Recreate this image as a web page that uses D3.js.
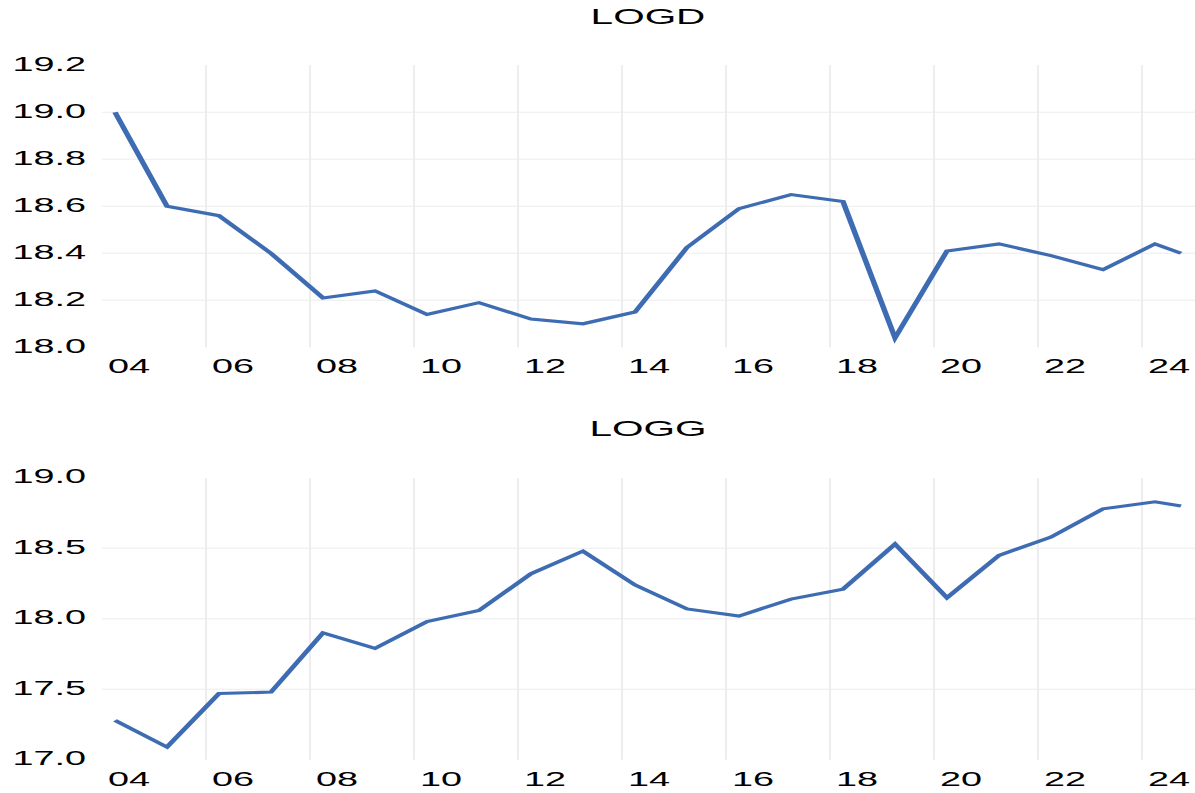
<!DOCTYPE html>
<html>
<head>
<meta charset="utf-8">
<script src="https://cdn.jsdelivr.net/npm/d3@7"></script>
<style>
  html, body { margin: 0; padding: 0; background: #fff; }
  svg { display: block; }
  text { font-family: "Liberation Sans", Arial, sans-serif; fill: #000; }
</style>
</head>
<body>
<svg id="chart"></svg>
<script>
// Observation dates (decimal years)
const periods = [2004.25, 2005.25, 2006.25, 2007.25, 2008.25, 2009.25, 2010.25,
  2011.25, 2012.25, 2013.25, 2014.25, 2015.25, 2016.25, 2017.25, 2018.25,
  2019.25, 2020.25, 2021.25, 2022.25, 2023.25, 2024.25, 2024.75];

const logd = [19.00, 18.60, 18.56, 18.40, 18.21, 18.24, 18.14, 18.19, 18.12, 18.10,
  18.15, 18.425, 18.59, 18.65, 18.62, 18.04, 18.41, 18.44, 18.39, 18.33, 18.44, 18.40];

const logg = [17.28, 17.09, 17.47, 17.48, 17.90, 17.79, 17.98, 18.06, 18.32, 18.48,
  18.24, 18.07, 18.02, 18.14, 18.21, 18.53, 18.15, 18.45, 18.58, 18.78, 18.83, 18.80];

// Axis ticks
const xLabelYears = [2004, 2006, 2008, 2010, 2012, 2014, 2016, 2018, 2020, 2022, 2024];
const xGridYears = [2006, 2008, 2010, 2012, 2014, 2016, 2018, 2020, 2022, 2024];
const logdTicks = [18.0, 18.2, 18.4, 18.6, 18.8, 19.0, 19.2];
const logdGrid = [18.2, 18.4, 18.6, 18.8, 19.0];
const loggTicks = [17.0, 17.5, 18.0, 18.5, 19.0];
const loggGrid = [17.5, 18.0, 18.5];

// The drawing is laid out in a narrower space and stretched horizontally
const K = 1.8;
const W = 1195, H = 793;
const VW = W / K;

const svg = d3.select("#chart")
  .attr("width", W).attr("height", H)
  .attr("viewBox", `0 0 ${VW} ${H}`)
  .attr("preserveAspectRatio", "none");

const x = d3.scaleLinear().domain([2004, 2025]).range([102 / K, 1194 / K]);

const panels = [
  { title: "LOGD", values: logd, domain: [18.0, 19.2], range: [347.3, 65.3],
    ticks: logdTicks, grid: logdGrid, titleY: 24, xLabelY: 373 },
  { title: "LOGG", values: logg, domain: [17.0, 19.0], range: [759.8, 477.8],
    ticks: loggTicks, grid: loggGrid, titleY: 436, xLabelY: 786 }
];

panels.forEach(p => {
  const y = d3.scaleLinear().domain(p.domain).range(p.range);
  const g = svg.append("g");

  // vertical grid
  g.append("g").selectAll("line").data(xGridYears).join("line")
    .attr("x1", d => x(d)).attr("x2", d => x(d))
    .attr("y1", p.range[1]).attr("y2", p.range[0])
    .attr("stroke", "#ebebeb").attr("stroke-width", 1);

  // horizontal grid
  g.append("g").selectAll("line").data(p.grid).join("line")
    .attr("x1", x.range()[0]).attr("x2", VW)
    .attr("y1", d => y(d)).attr("y2", d => y(d))
    .attr("stroke", "#ececec").attr("stroke-width", 1);

  // y axis labels
  const ya = g.append("g")
    .attr("transform", `translate(${86 / K},0)`)
    .call(d3.axisLeft(y).tickValues(p.ticks).tickSize(0).tickPadding(0)
      .tickFormat(d3.format(".1f")));
  ya.select(".domain").remove();
  ya.selectAll("text")
    .attr("font-family", "Liberation Sans, Arial, sans-serif")
    .attr("font-size", 21).attr("fill", "#000")
    .attr("dy", null).attr("y", 5).attr("dominant-baseline", "auto");

  // x axis labels, centred on each labelled year
  const xa = g.append("g")
    .attr("transform", `translate(0,${p.xLabelY})`)
    .call(d3.axisBottom(x).tickValues(xLabelYears.map(v => v + 0.5))
      .tickSize(0).tickPadding(0)
      .tickFormat(d => String(Math.floor(d) % 100).padStart(2, "0")));
  xa.select(".domain").remove();
  xa.selectAll("text")
    .attr("font-family", "Liberation Sans, Arial, sans-serif")
    .attr("font-size", 21).attr("fill", "#000")
    .attr("dy", null).attr("y", 0);

  // title
  g.append("text")
    .attr("x", (x.range()[0] + x.range()[1]) / 2)
    .attr("y", p.titleY)
    .attr("text-anchor", "middle")
    .attr("font-size", 22.5)
    .text(p.title);

  // series line
  const line = d3.line()
    .x((d, i) => x(periods[i]))
    .y(d => y(d));
  g.append("path")
    .datum(p.values)
    .attr("d", line)
    .attr("fill", "none")
    .attr("stroke", "#3d6cb3")
    .attr("stroke-width", 3.1)
    .attr("stroke-linejoin", "miter")
    .attr("stroke-linecap", "butt");
});
</script>
</body>
</html>
